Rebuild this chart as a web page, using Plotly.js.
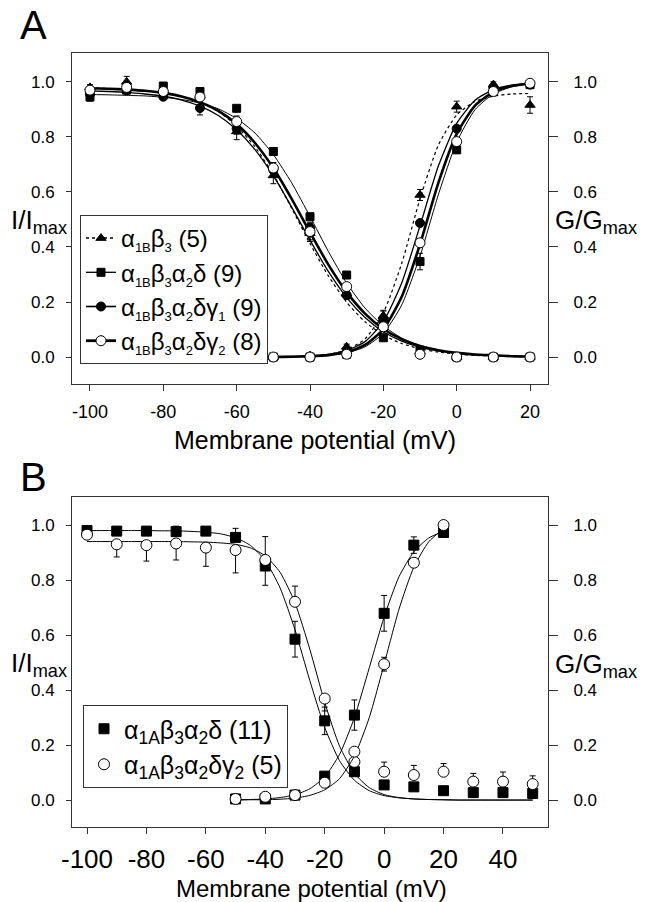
<!DOCTYPE html>
<html><head><meta charset="utf-8">
<script src="https://cdn.plot.ly/plotly-3.0.1.min.js"></script>
<style>html,body{margin:0;padding:0;background:#fff}#chart{width:645px;height:902px}</style>
</head><body><div id="chart"></div>
<script>
// ---------- Panel A data (alpha1B) ----------
const xA_inact = [-100,-90,-80,-70,-60,-50,-40,-30,-20,-10,0,10,20];
const triA_inact = [0.98,1.00,0.97,0.95,0.82,0.66,0.45,0.23,0.15,0.02,0.00,0.00,0.00];
const triA_inactErr = [0.01,0.02,0.01,0.01,0.03,0.03,0.03,0.02,0.02,0,0,0,0];
const sqA_inact = [0.945,0.97,0.985,0.965,0.904,0.747,0.51,0.298,0.12,0.025,0.0,0.0,0.0];
const sqA_inactErr = [0.015,0.01,0.01,0.01,0.01,0.01,0.01,0.01,0.01,0,0,0,0];
const fcA_inact = [0.955,0.97,0.946,0.905,0.83,0.68,0.47,0.225,0.13,0.01,0,0,0];
const fcA_inactErr = [0.01,0.01,0.01,0.025,0.02,0.02,0.02,0.01,0.01,0,0,0,0];
const ocA_inact = [0.97,0.98,0.965,0.945,0.856,0.687,0.456,0.256,0.11,0.01,0.0,0.0,0.0];
const ocA_inactErr = [0.01,0.01,0.01,0.01,0.02,0.02,0.03,0.01,0.01,0.01,0,0,0];

const xA_act = [-60,-50,-40,-30,-20,-10,0,10,20];
const triA_act = [0.0,0.0,0.005,0.037,0.147,0.589,0.91,0.99,0.916];
const triA_actErr = [0,0,0,0.01,0.02,0.02,0.02,0.01,0.03];
const sqA_act = [0,0,0,0.01,0.07,0.347,0.753,0.97,0.99];
const sqA_actErr = [0,0,0,0,0.01,0.03,0.01,0.01,0.01];
const fcA_act = [0,0,0,0.02,0.13,0.487,0.83,0.98,0.99];
const fcA_actErr = [0,0,0,0,0.01,0.01,0.01,0.01,0.01];
const ocA_act = [0,0,0,0.01,0.11,0.415,0.783,0.965,0.995];
const ocA_actErr = [0,0,0,0,0.01,0.01,0.01,0.01,0.01];

// fitted curves (every 5 mV)
const fitA_inact_x = [-100,-95,-90,-85,-80,-75,-70,-65,-60,-55,-50,-45,-40,-35,-30,-25,-20,-15,-10,-5,0,5,10,15,20];
const fitA_tri_inact = [0.978,0.976,0.973,0.968,0.960,0.947,0.926,0.892,0.840,0.764,0.663,0.541,0.413,0.295,0.199,0.128,0.080,0.049,0.030,0.018,0.011,0.006,0.004,0.002,0.001];
const fitA_sq_inact = [0.954,0.953,0.951,0.949,0.944,0.936,0.923,0.902,0.867,0.814,0.736,0.633,0.511,0.384,0.269,0.178,0.113,0.069,0.042,0.025,0.015,0.009,0.005,0.003,0.002];
const fitA_fc_inact = [0.967,0.965,0.962,0.956,0.948,0.934,0.912,0.878,0.826,0.754,0.659,0.545,0.425,0.311,0.216,0.144,0.092,0.058,0.036,0.022,0.014,0.008,0.005,0.003,0.002];
const fitA_oc_inact = [0.977,0.975,0.972,0.968,0.960,0.947,0.926,0.895,0.847,0.778,0.687,0.575,0.453,0.336,0.236,0.158,0.102,0.065,0.040,0.025,0.015,0.009,0.006,0.003,0.002];
const fitA_act_x = [-60,-55,-50,-45,-40,-35,-30,-25,-20,-15,-10,-5,0,5,10,15,20];
const fitA_tri_act = [0.000,0.000,0.000,0.001,0.004,0.010,0.026,0.066,0.161,0.340,0.575,0.770,0.880,0.929,0.948,0.956,0.958];
const fitA_sq_act = [0.000,0.000,0.000,0.001,0.002,0.006,0.015,0.037,0.086,0.189,0.367,0.590,0.781,0.899,0.956,0.982,0.993];
const fitA_fc_act = [0.000,0.000,0.001,0.002,0.004,0.010,0.024,0.056,0.129,0.269,0.477,0.694,0.849,0.933,0.972,0.988,0.995];
const fitA_oc_act = [0.000,0.000,0.000,0.001,0.003,0.007,0.018,0.044,0.101,0.219,0.410,0.633,0.811,0.914,0.963,0.985,0.994];

// ---------- Panel B data (alpha1A) ----------
const xB_inact = [-100,-90,-80,-70,-60,-50,-40,-30,-20,-10,0,10,20,30,40,50];
const sqB_inact = [0.98,0.978,0.978,0.976,0.978,0.955,0.851,0.585,0.288,0.103,0.055,0.048,0.034,0.027,0.027,0.024];
const sqB_inactErrPlus = [0,0.005,0.005,0.02,0.005,0.033,0,0.065,0.05,0.005,0,0,0,0,0,0];
const sqB_inactErrMinus = [0,0.005,0.005,0.005,0.005,0.005,0.07,0.065,0.05,0.005,0,0,0,0,0,0];
const ocB_inact = [0.965,0.93,0.927,0.933,0.918,0.909,0.873,0.721,0.369,0.139,0.103,0.091,0.103,0.067,0.067,0.058];
const ocB_inactErrPlus = [0,0,0,0,0,0,0.085,0.057,0,0,0.035,0.035,0.03,0.03,0.035,0.03];
const ocB_inactErrMinus = [0,0.046,0.058,0.06,0.068,0.083,0,0,0.045,0.03,0,0,0,0,0,0];

const xB_act = [-50,-40,-30,-20,-10,0,10,20];
const sqB_act = [0.004,0.004,0.018,0.087,0.309,0.679,0.927,0.973];
const sqB_actErr = [0,0,0,0.01,0.055,0.065,0.03,0.005];
const ocB_act = [0.004,0.012,0.018,0.063,0.176,0.494,0.863,1.0];
const ocB_actErr = [0,0,0,0,0.01,0.025,0.005,0.005];

const fitB_inact_x = [-100,-95,-90,-85,-80,-75,-70,-65,-60,-55,-50,-45,-40,-35,-30,-25,-20,-15,-10,-5,0,5,10,15,20,25,30,35,40,45,50];
const fitB_sq_inact = [0.980,0.980,0.980,0.980,0.980,0.979,0.979,0.977,0.974,0.968,0.954,0.926,0.871,0.771,0.619,0.434,0.264,0.143,0.072,0.034,0.016,0.008,0.004,0.002,0.001,0,0,0,0,0,0];
const fitB_oc_inact = [0.940,0.940,0.940,0.940,0.940,0.940,0.940,0.939,0.938,0.935,0.930,0.917,0.888,0.828,0.717,0.548,0.355,0.196,0.097,0.045,0.020,0.009,0.004,0.002,0.001,0,0,0,0,0,0];
const fitB_act_x = [-50,-45,-40,-35,-30,-25,-20,-15,-10,-5,0,5,10,15,20];
const fitB_sq_act = [0.001,0.002,0.004,0.009,0.019,0.041,0.084,0.166,0.300,0.481,0.666,0.812,0.903,0.953,0.977];
const fitB_oc_act = [0.000,0.001,0.001,0.003,0.007,0.017,0.037,0.078,0.160,0.300,0.494,0.694,0.847,0.939,0.987];

// legend labels
const SUBA = s => '<sub><span style="font-size:13px">' + s + '</span></sub>';
const legendA = [
  'α' + SUBA('1B') + 'β' + SUBA('3') + ' (5)',
  'α' + SUBA('1B') + 'β' + SUBA('3') + 'α' + SUBA('2') + 'δ (9)',
  'α' + SUBA('1B') + 'β' + SUBA('3') + 'α' + SUBA('2') + 'δγ' + SUBA('1') + ' (9)',
  'α' + SUBA('1B') + 'β' + SUBA('3') + 'α' + SUBA('2') + 'δγ' + SUBA('2') + ' (8)'
];
const legendB = ['α<sub>1A</sub>β<sub>3</sub>α<sub>2</sub>δ (11)', 'α<sub>1A</sub>β<sub>3</sub>α<sub>2</sub>δγ<sub>2</sub> (5)'];
const tickA_x = [-100,-80,-60,-40,-20,0,20];
const tickB_x = [-100,-80,-60,-40,-20,0,20,40];
const tickY = [0,0.2,0.4,0.6,0.8,1.0];
const tickYText = ['0.0','0.2','0.4','0.6','0.8','1.0'];

// ---------- styles ----------
const FONT = 'Liberation Sans, Arial, Helvetica, sans-serif';
const K = '#000';
const stA = [
  {sym:'triangle-up', size:9, fill:K, lw:1.2, dash:'dot'},
  {sym:'square', size:8, fill:K, lw:1, dash:'solid'},
  {sym:'circle', size:9, fill:K, lw:1.3, dash:'solid'},
  {sym:'circle', size:10, fill:'#fff', lw:2.6, dash:'solid'}
];
const traces = [];
function line(x, y, xa, ya, w, dash){
  traces.push({type:'scatter', mode:'lines', x:x, y:y, xaxis:xa, yaxis:ya, showlegend:false, hoverinfo:'skip',
    line:{color:K, width:w, dash:dash||'solid', shape:'spline', smoothing:0.6}});
}
function pts(x, y, xa, ya, st, errP, errM){
  const e = {type:'data', array:errP, color:K, thickness:1, width:3, visible:true};
  if (errM) { e.symmetric = false; e.arrayminus = errM; }
  traces.push({type:'scatter', mode:'markers', x:x, y:y, xaxis:xa, yaxis:ya, showlegend:false, hoverinfo:'skip', cliponaxis:false,
    marker:{symbol:st.sym, size:st.size, color:st.fill, line:{color:K, width:1}}, error_y:e});
}

// Panel A curves
line(fitA_inact_x, fitA_tri_inact, 'x', 'y', stA[0].lw, 'dot');
line(fitA_inact_x, fitA_sq_inact, 'x', 'y', stA[1].lw);
line(fitA_inact_x, fitA_fc_inact, 'x', 'y', stA[2].lw);
line(fitA_inact_x, fitA_oc_inact, 'x', 'y', stA[3].lw);
line(fitA_act_x, fitA_tri_act, 'x', 'y2', stA[0].lw, 'dot');
line(fitA_act_x, fitA_sq_act, 'x', 'y2', stA[1].lw);
line(fitA_act_x, fitA_fc_act, 'x', 'y2', stA[2].lw);
line(fitA_act_x, fitA_oc_act, 'x', 'y2', stA[3].lw);
// Panel A points
pts(xA_inact, triA_inact, 'x', 'y', stA[0], triA_inactErr);
pts(xA_act, triA_act, 'x', 'y2', stA[0], triA_actErr);
pts(xA_inact, sqA_inact, 'x', 'y', stA[1], sqA_inactErr);
pts(xA_act, sqA_act, 'x', 'y2', stA[1], sqA_actErr);
pts(xA_inact, fcA_inact, 'x', 'y', stA[2], fcA_inactErr);
pts(xA_act, fcA_act, 'x', 'y2', stA[2], fcA_actErr);
pts(xA_inact, ocA_inact, 'x', 'y', stA[3], ocA_inactErr);
pts(xA_act, ocA_act, 'x', 'y2', stA[3], ocA_actErr);
// Panel A legend entries
legendA.forEach((name, i) => {
  const st = stA[i];
  traces.push({type:'scatter', mode:'lines+markers', x:[null], y:[null], xaxis:'x', yaxis:'y', name:name, legend:'legend',
    line:{color:K, width:Math.min(st.lw+0.3, 2.8), dash:st.dash},
    marker:{symbol:st.sym, size:st.size, color:st.fill, line:{color:K, width:1}}});
});

// Panel B
const stB = [
  {sym:'square', size:10, fill:K},
  {sym:'circle', size:11, fill:'#fff'}
];
line(fitB_inact_x, fitB_sq_inact, 'x2', 'y3', 1);
line(fitB_inact_x, fitB_oc_inact, 'x2', 'y3', 1);
line(fitB_act_x, fitB_sq_act, 'x2', 'y4', 1);
line(fitB_act_x, fitB_oc_act, 'x2', 'y4', 1);
pts(xB_inact, sqB_inact, 'x2', 'y3', stB[0], sqB_inactErrPlus, sqB_inactErrMinus);
pts(xB_act, sqB_act, 'x2', 'y4', stB[0], sqB_actErr);
pts(xB_inact, ocB_inact, 'x2', 'y3', stB[1], ocB_inactErrPlus, ocB_inactErrMinus);
pts(xB_act, ocB_act, 'x2', 'y4', stB[1], ocB_actErr);
legendB.forEach((name, i) => {
  const st = stB[i];
  traces.push({type:'scatter', mode:'markers', x:[null], y:[null], xaxis:'x2', yaxis:'y3', name:name, legend:'legend2',
    marker:{symbol:st.sym, size:st.size, color:st.fill, line:{color:K, width:1}}});
});

// ---------- layout ----------
const W = 645, H = 902;
const xDom = [72/W, 548/W];
const yDomA = [1-384/H, 1-53/H];
const yDomB = [1-827/H, 1-497/H];
const AX = '#333';
function xAxis(range, ticks, fs, anchor, standoff){
  return {domain:xDom, range:range, anchor:anchor, tickmode:'array', tickvals:ticks, ticktext:ticks.map(String),
    ticks:'outside', ticklen:6, tickwidth:1, tickcolor:AX, showline:true, linecolor:AX, linewidth:1, mirror:true,
    showgrid:false, zeroline:false, tickfont:{family:FONT, size:fs, color:'#000'}, ticklabelstandoff:standoff};
}
function yAxis(dom, range, anchor){
  return {domain:dom, range:range, anchor:anchor, tickmode:'array', tickvals:tickY, ticktext:tickYText,
    ticks:'outside', ticklen:5, tickwidth:1, tickcolor:AX, showline:true, linecolor:AX, linewidth:1, mirror:true,
    showgrid:false, zeroline:false, tickfont:{family:FONT, size:17, color:'#000'}, ticklabelstandoff:8};
}
function yRight(over, range, anchor){
  return {overlaying:over, side:'right', range:range, anchor:anchor, tickmode:'array', tickvals:tickY, ticktext:tickYText,
    ticks:'outside', ticklen:9, tickwidth:1, tickcolor:AX, showline:false, showgrid:false, zeroline:false,
    tickfont:{family:FONT, size:17, color:'#000'}, ticklabelstandoff:12};
}
const rA = [-0.098, 1.105], rB = [-0.098, 1.102];
function ann(text, x, y, size, xanchor){
  return {text:text, x:x/W, y:1-y/H, xref:'paper', yref:'paper', xanchor:xanchor||'center', yanchor:'middle',
    showarrow:false, font:{family:FONT, size:size, color:'#000'}};
}
const layout = {
  width:W, height:H, margin:{l:0, r:0, t:0, b:0}, paper_bgcolor:'#fff', plot_bgcolor:'#fff',
  font:{family:FONT, color:'#000'},
  xaxis: xAxis([-104.9, 24.9], tickA_x, 18, 'y', 5),
  yaxis: yAxis(yDomA, rA, 'x'),
  yaxis2: yRight('y', rA, 'x'),
  xaxis2: xAxis([-105.05, 55.15], tickB_x, 26, 'y3', 3),
  yaxis3: yAxis(yDomB, rB, 'x2'),
  yaxis4: yRight('y3', rB, 'x2'),
  legend:{x:80/W, y:1-215/H, xanchor:'left', yanchor:'top', bgcolor:'#fff', bordercolor:AX, borderwidth:1,
    font:{family:FONT, size:24, color:'#000'}, tracegroupgap:0, itemwidth:30},
  legend2:{x:83/W, y:1-705/H, xanchor:'left', yanchor:'top', bgcolor:'#fff', bordercolor:AX, borderwidth:1,
    font:{family:FONT, size:25, color:'#000'}, tracegroupgap:0, itemwidth:30},
  annotations:[
    ann('A', 33, 25, 40),
    ann('B', 33, 477, 40),
    ann('I/I<sub>max</sub>', 69, 221, 26, 'right'),
    ann('G/G<sub>max</sub>', 553, 222, 26, 'left'),
    ann('Membrane potential (mV)', 172, 440, 25, 'left'),
    ann('I/I<sub>max</sub>', 69, 664, 26, 'right'),
    ann('G/G<sub>max</sub>', 553, 665, 26, 'left'),
    ann('Membrane potential (mV)', 174, 888, 24, 'left')
  ],
  showlegend:true
};
Plotly.newPlot('chart', traces, layout, {displayModeBar:false, staticPlot:true});
</script></body></html>
